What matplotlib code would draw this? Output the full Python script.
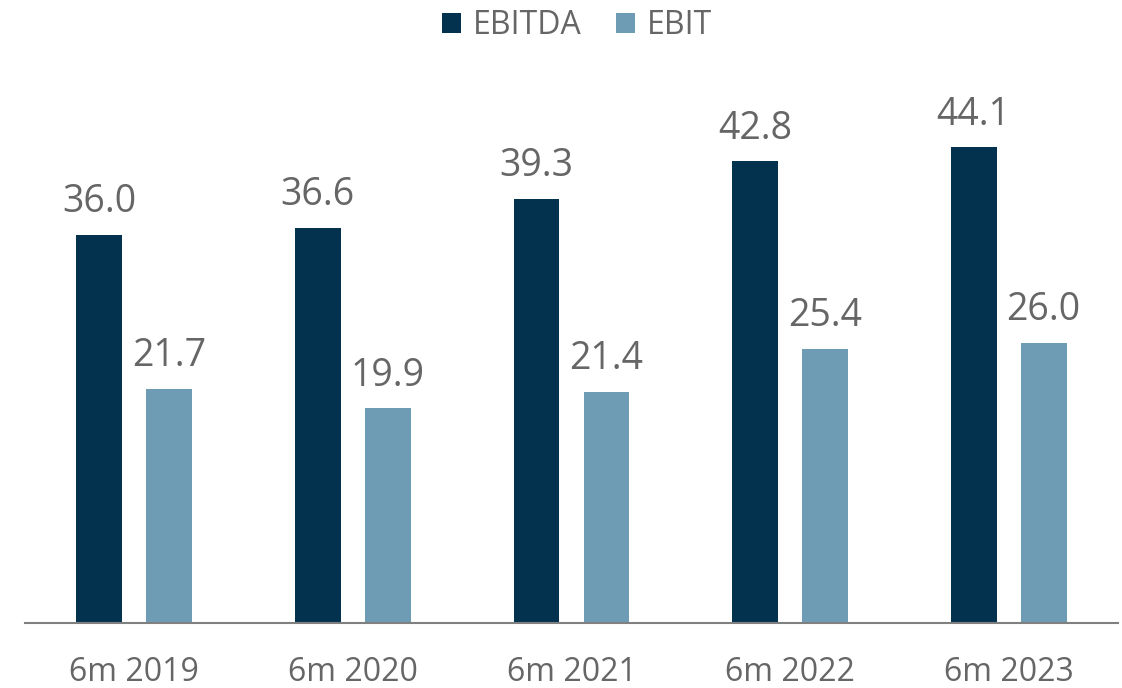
import matplotlib
matplotlib.use("Agg")
import matplotlib.pyplot as plt
import numpy as np

categories = ["6m 2019", "6m 2020", "6m 2021", "6m 2022", "6m 2023"]
ebitda = [36.0, 36.6, 39.3, 42.8, 44.1]
ebit = [21.7, 19.9, 21.4, 25.4, 26.0]

dark = "#03324F"
light = "#6E9CB5"
textc = "#666666"

plt.rcParams['font.family'] = ['Open Sans', 'DejaVu Sans']

fig = plt.figure(figsize=(11.22, 6.88), dpi=100)
W, H = 1122, 688
ax = fig.add_axes([25 / W, (H - 623) / H, (1118 - 25) / W, (623 - 100) / H])

x = np.arange(len(categories))
bw = 0.21
off = 0.16
b1 = ax.bar(x - off, ebitda, bw, color=dark, label="EBITDA")
b2 = ax.bar(x + off, ebit, bw, color=light, label="EBIT")

for bars, vals in ((b1, ebitda), (b2, ebit)):
    for b, v in zip(bars, vals):
        ax.annotate(f"{v:.1f}", (b.get_x() + b.get_width() / 2, v),
                    xytext=(0, 10), textcoords="offset points",
                    ha="center", va="bottom", fontsize=27, color=textc)

ax.set_xlim(-0.5, len(categories) - 0.5)
ax.set_ylim(0, 48.5)
ax.set_xticks(x)
ax.set_xticklabels(categories, fontsize=23, color=textc)
ax.tick_params(axis="x", length=0, pad=24)
ax.set_yticks([])
for s in ("top", "right", "left"):
    ax.spines[s].set_visible(False)
ax.spines["bottom"].set_color("#808080")
ax.spines["bottom"].set_linewidth(1.5)

leg = fig.legend(handles=[b1, b2], labels=["EBITDA", "EBIT"], loc="center",
                 bbox_to_anchor=(577 / W, (H - 26) / H), ncol=2, frameon=False,
                 fontsize=23, handlelength=0.6, handleheight=0.6,
                 handletextpad=0.35, columnspacing=1.1, labelcolor=textc)

fig.savefig("out.png", dpi=100)
